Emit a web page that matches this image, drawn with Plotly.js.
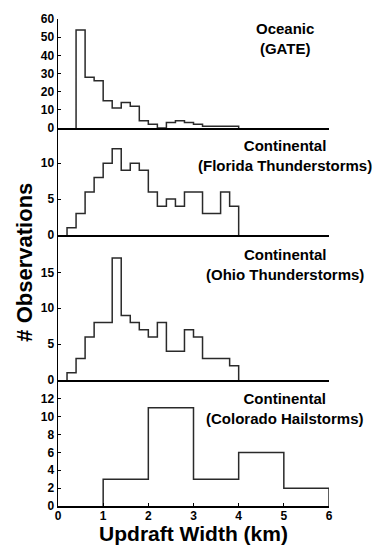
<!DOCTYPE html>
<html>
<head>
<meta charset="utf-8">
<script src="https://cdn.plot.ly/plotly-3.0.1.min.js"></script>
<style>html,body{margin:0;padding:0;background:#fff;}#chart{width:378px;height:545px;}</style>
</head>
<body>
<div id="chart"></div>
<script>
// Bin left edges (km) and counts for each updraft-width histogram
var gateBins = [0.4,0.6,0.8,1.0,1.2,1.4,1.6,1.8,2.0,2.2,2.4,2.6,2.8,3.0,3.2,3.4,3.6,3.8];
var gateCounts = [54,28,26,15,11,14,12,4,2,0,3,4,3,2,1,1,1,1];
var gateWidth = 0.2;

var floridaBins = [0.2,0.4,0.6,0.8,1.0,1.2,1.4,1.6,1.8,2.0,2.2,2.4,2.6,2.8,3.0,3.2,3.4,3.6,3.8];
var floridaCounts = [1,3,6,8,10,12,9,10,9,6,4,5,4,6,6,3,3,6,4];
var floridaWidth = 0.2;

var ohioBins = [0.2,0.4,0.6,0.8,1.0,1.2,1.4,1.6,1.8,2.0,2.2,2.4,2.6,2.8,3.0,3.2,3.4,3.6,3.8];
var ohioCounts = [1,3,6,8,8,17,9,8,7,6,8,4,4,7,6,3,3,3,2];
var ohioWidth = 0.2;

var coloradoBins = [1,2,3,4,5];
var coloradoCounts = [3,11,3,6,2];
var coloradoWidth = 1;

var panelLabels = ["Oceanic<br>(GATE)", "Continental<br>(Florida Thunderstorms)",
                   "Continental<br>(Ohio Thunderstorms)", "Continental<br>(Colorado Hailstorms)"];
var xTickVals = [0,1,2,3,4,5,6];
var yTicks1 = [0,10,20,30,40,50,60];
var yTicks2 = [0,5,10];
var yTicks3 = [0,5,10,15];
var yTicks4 = [0,2,4,6,8,10,12];
var xTitle = "Updraft Width (km)";
var yTitle = "# Observations";

function stepTrace(bins, counts, width, xa, ya) {
  var xs = [bins[0]], ys = [0];
  for (var i = 0; i < bins.length; i++) { xs.push(bins[i]); ys.push(counts[i]); }
  xs.push(bins[bins.length - 1] + width); ys.push(0);
  return {x: xs, y: ys, type: 'scatter', mode: 'lines', line: {shape: 'hv', color: '#2a2a2a', width: 1.5},
          xaxis: xa, yaxis: ya, showlegend: false, hoverinfo: 'skip'};
}

var data = [
  stepTrace(gateBins, gateCounts, gateWidth, 'x', 'y'),
  stepTrace(floridaBins, floridaCounts, floridaWidth, 'x2', 'y2'),
  stepTrace(ohioBins, ohioCounts, ohioWidth, 'x3', 'y3'),
  stepTrace(coloradoBins, coloradoCounts, coloradoWidth, 'x4', 'y4')
];

var FONT = 'Liberation Sans, Arial, sans-serif';
function xAx(anchor, showLabels) {
  var a = {anchor: anchor, range: [0, 6], showline: true, linecolor: '#000', linewidth: 2,
           showgrid: false, zeroline: false, fixedrange: true,
           showticklabels: showLabels, ticks: showLabels ? 'inside' : '', ticklen: 3, tickwidth: 1, tickcolor: '#000',
           tickvals: xTickVals,
           tickfont: {family: FONT, size: 12, color: '#000', weight: 'bold'}};
  return a;
}
function yAx(anchor, dom, rng, tv) {
  return {anchor: anchor, domain: dom, range: rng, showline: true, linecolor: '#000', linewidth: 1.5,
          showgrid: false, zeroline: false, fixedrange: true, tickvals: tv,
          ticks: 'inside', ticklen: 3, tickwidth: 1, tickcolor: '#000',
          tickfont: {family: FONT, size: 12, color: '#000', weight: 'bold'}};
}

var xa4 = xAx('y4', true);
xa4.ticklabelstandoff = -2;
xa4.title = {text: xTitle, font: {family: FONT, size: 21, color: '#000', weight: 'bold'}, standoff: 6};

var annFont = {family: FONT, size: 15, color: '#000', weight: 'bold'};
var annY = [0.959, 0.719, 0.4955, 0.2008];
var annotations = panelLabels.map(function (t, i) {
  return {text: t, xref: 'paper', yref: 'paper', x: 0.838, y: annY[i], xanchor: 'center', yanchor: 'middle',
          showarrow: false, font: annFont, align: 'center'};
});
annotations.push({text: yTitle, xref: 'paper', yref: 'paper', x: -0.125, y: 0.5, xanchor: 'center', yanchor: 'middle',
                  textangle: -90, showarrow: false, font: {family: FONT, size: 22, color: '#000', weight: 'bold'}});

var layout = {
  width: 378, height: 545,
  margin: {l: 58, r: 49, t: 19, b: 39},
  paper_bgcolor: '#fff', plot_bgcolor: '#fff',
  font: {family: FONT, color: '#000'},
  xaxis: xAx('y', false),
  xaxis2: xAx('y2', false),
  xaxis3: xAx('y3', false),
  xaxis4: xa4,
  yaxis: yAx('x', [0.7762, 1], [0, 60], yTicks1),
  yaxis2: yAx('x2', [0.5565, 0.7762], [0, 14.9], yTicks2),
  yaxis3: yAx('x3', [0.2587, 0.5565], [0, 20.2], yTicks3),
  yaxis4: yAx('x4', [0, 0.2587], [0, 14.1], yTicks4),
  annotations: annotations
};

Plotly.newPlot('chart', data, layout, {displayModeBar: false, staticPlot: true});
</script>
</body>
</html>
